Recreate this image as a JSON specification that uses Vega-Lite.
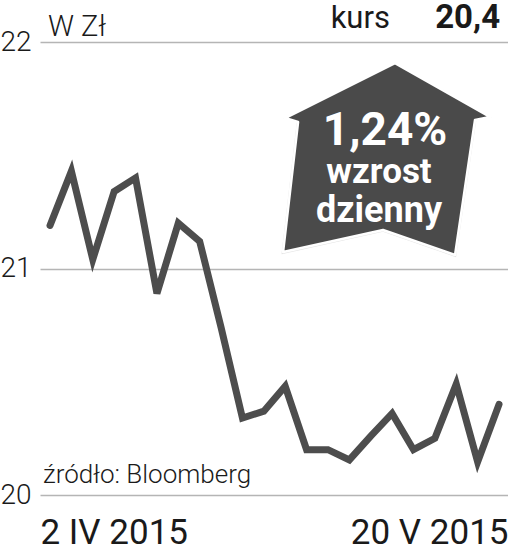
{
  "$schema": "https://vega.github.io/schema/vega-lite/v6.json",
  "width": 468,
  "height": 453,
  "autosize": {"type": "none"},
  "padding": {"left": 40, "top": 42, "right": 0, "bottom": 58},
  "background": "white",
  "config": {"view": {"stroke": null}, "font": "Roboto"},
  "data": {"values": [
    {"i": 0, "kurs": 21.19},
    {"i": 1, "kurs": 21.43},
    {"i": 2, "kurs": 21.04},
    {"i": 3, "kurs": 21.34},
    {"i": 4, "kurs": 21.40},
    {"i": 5, "kurs": 20.89},
    {"i": 6, "kurs": 21.20},
    {"i": 7, "kurs": 21.12},
    {"i": 8, "kurs": 20.74},
    {"i": 9, "kurs": 20.34},
    {"i": 10, "kurs": 20.37},
    {"i": 11, "kurs": 20.48},
    {"i": 12, "kurs": 20.20},
    {"i": 13, "kurs": 20.20},
    {"i": 14, "kurs": 20.155},
    {"i": 15, "kurs": 20.26},
    {"i": 16, "kurs": 20.36},
    {"i": 17, "kurs": 20.20},
    {"i": 18, "kurs": 20.25},
    {"i": 19, "kurs": 20.49},
    {"i": 20, "kurs": 20.146},
    {"i": 21, "kurs": 20.40}
  ]},
  "layer": [
    {
      "mark": {"type": "line", "color": "#4d4d4d", "strokeWidth": 7, "strokeJoin": "miter", "strokeCap": "round"},
      "encoding": {
        "x": {
          "field": "i", "type": "quantitative",
          "scale": {"domain": [-0.468, 21.42], "nice": false, "zero": false},
          "axis": {
            "title": null, "grid": false, "domain": false, "ticks": false,
            "values": [-0.468, 21.42],
            "labelExpr": "datum.value < 10 ? '2 IV 2015' : '20 V 2015'",
            "labelFlush": true,
            "labelBaseline": "alphabetic",
            "labelPadding": 48,
            "labelFont": "Roboto", "labelFontSize": 35, "labelFontWeight": 400, "labelColor": "#1a1a1a"
          }
        },
        "y": {
          "field": "kurs", "type": "quantitative",
          "scale": {"domain": [20, 22], "nice": false, "zero": false},
          "axis": {
            "title": null, "domain": false, "ticks": false,
            "values": [20, 21, 22],
            "tickCount": 3,
            "labelExpr": "'' + round(datum.value)",
            "grid": true, "gridColor": "#b5b5b5", "gridWidth": 1.5,
            "labelFlush": false,
            "labelOverlap": false,
            "labelBaseline": "middle",
            "labelPadding": 9,
            "labelFont": "Roboto", "labelFontSize": 28, "labelFontWeight": 300, "labelColor": "#1a1a1a"
          }
        }
      }
    },
    {
      "data": {"values": [{}]},
      "mark": {"type": "point", "shape": "M0.071,-0.914L0.976,-0.4L0.833,-0.371L0.643,0.914L-0.043,0.676L-0.995,0.886L-0.852,-0.352L-0.976,-0.39Z", "size": 45400, "filled": true, "fill": "#dcdcdc", "opacity": 0.8, "strokeWidth": 0},
      "encoding": {"x": {"datum": 15.786}, "y": {"datum": 21.48}}
    },
    {
      "data": {"values": [{}]},
      "mark": {"type": "point", "shape": "M0.071,-0.914L0.976,-0.4L0.833,-0.371L0.643,0.914L-0.043,0.676L-0.995,0.886L-0.852,-0.352L-0.976,-0.39Z", "size": 44100, "filled": true, "fill": "#4a4a4a", "opacity": 1, "stroke": "white", "strokeWidth": 2.5, "strokeJoin": "round"},
      "encoding": {"x": {"datum": 15.786}, "y": {"datum": 21.4834}}
    },
    {
      "data": {"values": [{"t": "1,24%"}]},
      "mark": {"type": "text", "align": "center", "baseline": "alphabetic", "font": "Roboto", "fontSize": 46, "fontWeight": 700, "color": "white"},
      "encoding": {"text": {"field": "t"}, "x": {"datum": 15.669}, "y": {"datum": 21.545}}
    },
    {
      "data": {"values": [{"t": "wzrost"}]},
      "mark": {"type": "text", "align": "center", "baseline": "alphabetic", "font": "Roboto", "fontSize": 35, "fontWeight": 700, "color": "white"},
      "encoding": {"text": {"field": "t"}, "x": {"datum": 15.388}, "y": {"datum": 21.3775}}
    },
    {
      "data": {"values": [{"t": "dzienny"}]},
      "mark": {"type": "text", "align": "center", "baseline": "alphabetic", "font": "Roboto", "fontSize": 36, "fontWeight": 700, "color": "white"},
      "encoding": {"text": {"field": "t"}, "x": {"datum": 15.388}, "y": {"datum": 21.205}}
    },
    {
      "data": {"values": [{"t": "W Zł"}]},
      "mark": {"type": "text", "align": "left", "baseline": "alphabetic", "font": "Roboto", "fontSize": 29, "fontWeight": 300, "color": "#1a1a1a"},
      "encoding": {"text": {"field": "t"}, "x": {"datum": -0.094}, "y": {"datum": 22.026}}
    },
    {
      "data": {"values": [{"t": "kurs"}]},
      "mark": {"type": "text", "align": "right", "baseline": "alphabetic", "font": "Roboto", "fontSize": 31, "fontWeight": 400, "color": "#1a1a1a"},
      "encoding": {"text": {"field": "t"}, "x": {"datum": 15.9}, "y": {"datum": 22.06}}
    },
    {
      "data": {"values": [{"t": "20,4"}]},
      "mark": {"type": "text", "align": "right", "baseline": "alphabetic", "font": "Roboto", "fontSize": 33, "fontWeight": 700, "color": "#1a1a1a"},
      "encoding": {"text": {"field": "t"}, "x": {"datum": 21.05}, "y": {"datum": 22.06}}
    },
    {
      "data": {"values": [{"t": "źródło: Bloomberg"}]},
      "mark": {"type": "text", "align": "left", "baseline": "alphabetic", "font": "Roboto", "fontSize": 26, "fontWeight": 300, "color": "#1a1a1a"},
      "encoding": {"text": {"field": "t"}, "x": {"datum": -0.327}, "y": {"datum": 20.053}}
    }
  ]
}
